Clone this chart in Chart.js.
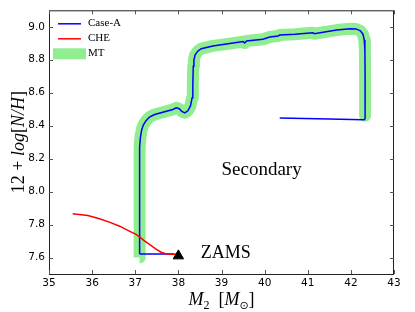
<!DOCTYPE html>
<html>
<head>
<meta charset="utf-8">
<script src="https://cdn.jsdelivr.net/npm/chart.js@4.4.0/dist/chart.umd.min.js"></script>
<style>
  html, body { margin: 0; padding: 0; background: #fff; }
  #wrap { width: 415px; height: 312px; }
</style>
</head>
<body>
<div id="wrap"><canvas id="chart"></canvas></div>
<script>
// Case-A track (blue), starting at ZAMS
const caseAx = [37.9, 37.6, 37.1, 37.1, 37.1, 37.1, 37.105, 37.12, 37.15, 37.19, 37.25, 37.33, 37.45, 37.64, 37.87, 37.95, 38.02, 38.08, 38.15, 38.22, 38.28, 38.32, 38.335, 38.345, 38.36, 38.39, 38.45, 38.53, 38.8, 39.19, 39.5, 39.54, 39.58, 39.96, 40.12, 40.31, 40.35, 40.7, 41.12, 41.15, 41.67, 41.98, 42.12, 42.22, 42.28, 42.31, 42.325, 42.33, 42.33, 42.33, 42.32, 42.28, 41.5, 40.35];
const caseAy = [7.622, 7.622, 7.622, 7.8, 8.0, 8.19, 8.27, 8.33, 8.375, 8.405, 8.43, 8.452, 8.468, 8.482, 8.498, 8.508, 8.503, 8.486, 8.478, 8.49, 8.52, 8.57, 8.65, 8.76, 8.8, 8.83, 8.852, 8.867, 8.884, 8.898, 8.91, 8.902, 8.914, 8.924, 8.938, 8.944, 8.95, 8.955, 8.964, 8.958, 8.98, 8.988, 8.987, 8.975, 8.955, 8.92, 8.86, 8.7, 8.5, 8.445, 8.437, 8.436, 8.44, 8.446];

// mass transfer phase (green), same track from 7.6 up to the top right
const mtX = [37.1, 37.1, 37.1, 37.1, 37.105, 37.12, 37.15, 37.19, 37.25, 37.33, 37.45, 37.64, 37.87, 37.95, 38.02, 38.08, 38.15, 38.22, 38.28, 38.32, 38.335, 38.345, 38.36, 38.39, 38.45, 38.53, 38.8, 39.19, 39.5, 39.54, 39.58, 39.96, 40.12, 40.31, 40.35, 40.7, 41.12, 41.15, 41.67, 41.98, 42.12, 42.22, 42.28, 42.31, 42.325, 42.33, 42.33];
const mtY = [7.6, 7.8, 8.0, 8.19, 8.27, 8.33, 8.375, 8.405, 8.43, 8.452, 8.468, 8.482, 8.498, 8.508, 8.503, 8.486, 8.478, 8.49, 8.52, 8.57, 8.65, 8.76, 8.8, 8.83, 8.852, 8.867, 8.884, 8.898, 8.91, 8.902, 8.914, 8.924, 8.938, 8.944, 8.95, 8.955, 8.964, 8.958, 8.98, 8.988, 8.987, 8.975, 8.955, 8.92, 8.86, 8.7, 8.46];

// chemically homogeneous evolution (red)
const cheX = [35.55, 35.9, 36.17, 36.4, 36.64, 36.85, 37.02, 37.1, 37.22, 37.33, 37.49, 37.6, 37.72, 37.85, 37.98];
const cheY = [7.865, 7.855, 7.835, 7.815, 7.79, 7.762, 7.74, 7.725, 7.7, 7.68, 7.65, 7.632, 7.622, 7.62, 7.62];

// ZAMS marker
const zamsX = [38.0];
const zamsY = [7.61];

const xTicks = [35, 36, 37, 38, 39, 40, 41, 42, 43];
const yTicks = [7.6, 7.8, 8.0, 8.2, 8.4, 8.6, 8.8, 9.0];

function pts(xs, ys) {
  return xs.map((x, i) => ({ x: x, y: ys[i] }));
}

// draw a row of text pieces with different fonts, centred on x
function drawPieces(ctx, pieces, cx, cy) {
  let total = 0;
  pieces.forEach((p) => {
    ctx.font = p.f;
    p.w = ctx.measureText(p.t).width;
    total += p.w;
  });
  let x = cx - total / 2;
  ctx.textBaseline = "alphabetic";
  ctx.textAlign = "left";
  pieces.forEach((p) => {
    ctx.font = p.f;
    ctx.fillText(p.t, x, cy + (p.dy || 0));
    x += p.w;
  });
}

const framePlugin = {
  id: "frame",
  afterDraw(chart) {
    const ctx = chart.ctx;
    const a = chart.chartArea;
    const xs = chart.scales.x;
    const ys = chart.scales.y;
    ctx.save();
    ctx.strokeStyle = "#222";
    ctx.lineWidth = 1;
    ctx.strokeRect(a.left + 0.5, a.top + 0.5, a.right - a.left - 1, a.bottom - a.top);

    // inward ticks on all four sides
    ctx.strokeStyle = "#555";
    ctx.beginPath();
    xs.ticks.forEach((t) => {
      const px = Math.round(xs.getPixelForValue(t.value)) + 0.5;
      ctx.moveTo(px, a.bottom);
      ctx.lineTo(px, a.bottom - 4);
      ctx.moveTo(px, a.top);
      ctx.lineTo(px, a.top + 4);
    });
    ys.ticks.forEach((t) => {
      const py = Math.round(ys.getPixelForValue(t.value)) + 0.5;
      ctx.moveTo(a.left, py);
      ctx.lineTo(a.left + 4, py);
      ctx.moveTo(a.right, py);
      ctx.lineTo(a.right - 4, py);
    });
    ctx.stroke();

    // legend, top left inside the axes
    const lx = a.left;
    const ly = a.top;
    ctx.lineCap = "butt";
    ctx.strokeStyle = "#0000ff";
    ctx.lineWidth = 1.5;
    ctx.beginPath();
    ctx.moveTo(lx + 9, ly + 13.5);
    ctx.lineTo(lx + 32, ly + 13.5);
    ctx.stroke();
    ctx.strokeStyle = "#ff0000";
    ctx.beginPath();
    ctx.moveTo(lx + 9, ly + 28.5);
    ctx.lineTo(lx + 32, ly + 28.5);
    ctx.stroke();
    ctx.fillStyle = "#90ee90";
    ctx.fillRect(lx + 4, ly + 38, 33, 11);
    ctx.fillStyle = "#000";
    ctx.font = "11px 'Liberation Serif'";
    ctx.textAlign = "left";
    ctx.textBaseline = "middle";
    ctx.fillText(chart.data.datasets[1].label, lx + 39, ly + 13);
    ctx.fillText(chart.data.datasets[2].label, lx + 39, ly + 28);
    ctx.fillText(chart.data.datasets[3].label, lx + 39, ly + 43);

    // annotations
    ctx.textBaseline = "alphabetic";
    ctx.font = "19px 'Liberation Serif'";
    ctx.fillText("Secondary", xs.getPixelForValue(39.0), ys.getPixelForValue(8.1));
    ctx.font = "18px 'Liberation Serif'";
    ctx.fillText("ZAMS", xs.getPixelForValue(38.52), ys.getPixelForValue(7.6));

    // x axis title
    const cx = (a.left + a.right) / 2;
    drawPieces(ctx, [
      { t: "M", f: "italic 18px 'Liberation Serif'" },
      { t: "2", f: "12px 'Liberation Serif'", dy: 4 },
      { t: "  [", f: "18px 'Liberation Serif'" },
      { t: "M", f: "italic 18px 'Liberation Serif'" },
      { t: "\u2299", f: "11px 'DejaVu Sans'", dy: 4 },
      { t: "]", f: "18px 'Liberation Serif'" }
    ], cx, 305);

    // y axis title
    ctx.translate(24, (a.top + a.bottom) / 2);
    ctx.rotate(-Math.PI / 2);
    drawPieces(ctx, [
      { t: "12 + ", f: "18px 'Liberation Serif'" },
      { t: "log", f: "italic 18px 'Liberation Serif'" },
      { t: "[", f: "18px 'Liberation Serif'" },
      { t: "N", f: "italic 18px 'Liberation Serif'" },
      { t: "/", f: "italic 18px 'Liberation Serif'" },
      { t: "H", f: "italic 18px 'Liberation Serif'" },
      { t: "]", f: "18px 'Liberation Serif'" }
    ], 0, 0);
    ctx.restore();
  }
};

const chart = new Chart(document.getElementById("chart"), {
  type: "scatter",
  data: {
    datasets: [
      {
        label: "ZAMS",
        data: pts(zamsX, zamsY),
        pointStyle: "triangle",
        pointRadius: 6,
        backgroundColor: "#000",
        borderColor: "#000",
        showLine: false,
        order: 0
      },
      {
        label: "Case-A",
        data: pts(caseAx, caseAy),
        showLine: true,
        borderColor: "#0000ff",
        borderWidth: 1.5,
        pointRadius: 0,
        tension: 0,
        order: 2
      },
      {
        label: "CHE",
        data: pts(cheX, cheY),
        showLine: true,
        borderColor: "#ff0000",
        borderWidth: 1.5,
        pointRadius: 0,
        tension: 0,
        order: 1
      },
      {
        label: "MT",
        data: pts(mtX, mtY),
        showLine: true,
        borderColor: "#90ee90",
        borderWidth: 12,
        borderJoinStyle: "round",
        borderCapStyle: "butt",
        pointRadius: 0,
        tension: 0,
        order: 3
      }
    ]
  },
  options: {
    responsive: true,
    maintainAspectRatio: false,
    animation: false,
    events: [],
    layout: { padding: { top: 9, right: 21, left: 0, bottom: 0 } },
    plugins: {
      legend: { display: false },
      tooltip: { enabled: false }
    },
    scales: {
      x: {
        type: "linear",
        min: 35,
        max: 43,
        afterBuildTicks: (s) => { s.ticks = xTicks.map((v) => ({ value: v })); },
        afterFit: (s) => { s.height = 38; },
        grid: { display: false, drawTicks: false },
        border: { display: false },
        ticks: {
          color: "#000",
          padding: 3,
          font: { family: "'DejaVu Sans'", size: 10.5 },
          callback: (v) => String(v)
        }
      },
      y: {
        type: "linear",
        min: 7.5,
        max: 9.1,
        afterBuildTicks: (s) => { s.ticks = yTicks.map((v) => ({ value: v })); },
        afterFit: (s) => { s.width = 49; },
        grid: { display: false, drawTicks: false },
        border: { display: false },
        ticks: {
          color: "#000",
          padding: 4,
          font: { family: "'DejaVu Sans'", size: 10.5 },
          callback: (v) => v.toFixed(1)
        }
      }
    }
  },
  plugins: [framePlugin]
});
</script>
</body>
</html>
